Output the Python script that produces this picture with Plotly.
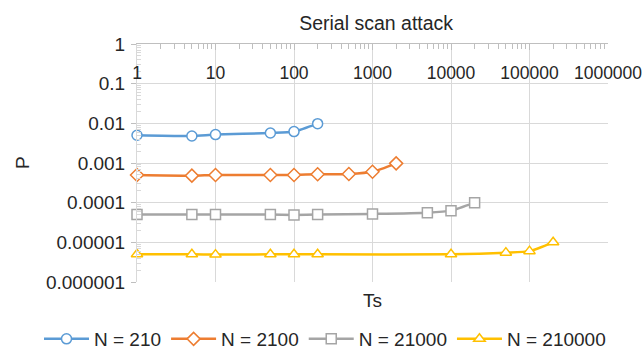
import plotly.graph_objects as go

# Time steps Ts and detection probability P for each network size N
ts_210 = [1, 5, 10, 50, 100, 200]
p_210 = [0.005, 0.0048, 0.0052, 0.0057, 0.0062, 0.0098]

ts_2100 = [1, 5, 10, 50, 100, 200, 500, 1000, 2000]
p_2100 = [0.0005, 0.00048, 0.0005, 0.0005, 0.0005, 0.00052, 0.00053, 0.0006, 0.00098]

ts_21000 = [1, 5, 10, 50, 100, 200, 1000, 5000, 10000, 20000]
p_21000 = [0.00005, 0.00005, 0.00005, 0.00005, 0.000049, 0.00005, 0.000052,
           0.000056, 0.000063, 0.0001]

ts_210000 = [1, 5, 10, 50, 100, 200, 10000, 50000, 100000, 200000]
p_210000 = [5e-6, 5e-6, 4.9e-6, 5e-6, 5e-6, 5e-6, 5e-6, 5.5e-6, 6e-6, 1e-5]

series_names = ["N = 210", "N = 2100", "N = 21000", "N = 210000"]
series_colors = ["#5B9BD5", "#ED7D31", "#A5A5A5", "#FFC000"]
series_symbols = ["circle", "diamond", "square", "triangle-up"]

x_tick_vals = [1, 10, 100, 1000, 10000, 100000, 1000000]
x_tick_text = ["1", "10", "100", "1000", "10000", "100000", "1000000"]
y_tick_vals = [1, 0.1, 0.01, 0.001, 0.0001, 0.00001, 0.000001]
y_tick_text = ["1", "0.1", "0.01", "0.001", "0.0001", "0.00001", "0.000001"]

FONT = "Liberation Sans, Arial, sans-serif"
TEXT = "#262626"
PLOT_W, PLOT_H = 471, 238

fig = go.Figure()
series = [(ts_210, p_210), (ts_2100, p_2100), (ts_21000, p_21000), (ts_210000, p_210000)]
for (xs, ys), name, color, symbol in zip(series, series_names, series_colors, series_symbols):
    fig.add_trace(go.Scatter(
        x=xs, y=ys, name=name, mode="lines+markers", cliponaxis=False,
        line=dict(color=color, width=2.5, shape="spline", smoothing=0.6),
        marker=dict(symbol=symbol, size=10, color="white",
                    line=dict(color=color, width=1.5)),
    ))

# empty trace that carries the label-only x axis
fig.add_trace(go.Scatter(x=[], y=[], xaxis="x2", mode="none",
                         showlegend=False, hoverinfo="skip"))

# minor tick positions 2..9 within each decade
x_minor = [m * 10 ** d for d in range(0, 6) for m in range(2, 10)]
y_minor = [m * 10.0 ** d for d in range(-6, 0) for m in range(2, 10)]

# main x axis: line, ticks and vertical grid at the top (P = 1)
fig.update_layout(xaxis=dict(
    type="log", range=[0, 6], side="top",
    tickmode="array", tickvals=x_tick_vals, ticktext=x_tick_text,
    showticklabels=False,
    ticks="inside", ticklen=6, tickcolor="#bfbfbf", tickwidth=1,
    showline=True, linecolor="#bfbfbf", linewidth=1,
    showgrid=True, gridcolor="#d9d9d9", gridwidth=1,
    minor=dict(tickmode="array", tickvals=x_minor, ticks="inside",
               ticklen=5, tickcolor="#bfbfbf", showgrid=False),
    zeroline=False,
))
fig.update_layout(yaxis=dict(
    type="log", range=[-6, 0],
    tickmode="array", tickvals=y_tick_vals, ticktext=y_tick_text,
    ticks="outside", ticklen=5, tickcolor="#bfbfbf", tickwidth=1,
    ticklabelstandoff=2,
    tickfont=dict(family=FONT, size=19, color=TEXT),
    showline=True, linecolor="#d9d9d9", linewidth=1,
    showgrid=True, gridcolor="#d9d9d9", gridwidth=1,
    minor=dict(tickmode="array", tickvals=y_minor, ticks="inside",
               ticklen=4, tickcolor="#d9d9d9", showgrid=False),
    zeroline=False,
))

fig.update_layout(
    width=643, height=350,
    margin=dict(l=137, r=35, t=44, b=68, autoexpand=False),
    paper_bgcolor="white", plot_bgcolor="white",
    # x tick labels sit just under the top axis line
    xaxis2=dict(
        type="log", range=[0, 6], overlaying="x", anchor="free",
        position=1 - 16 / PLOT_H, side="bottom",
        tickmode="array", tickvals=x_tick_vals, ticktext=x_tick_text,
        ticks="", showgrid=False, showline=False, zeroline=False,
        ticklabeloverflow="allow",
        tickfont=dict(family=FONT, size=17.5, color=TEXT),
    ),
    title=dict(text="Serial scan attack", x=0.585, xanchor="center",
               y=1 - 23 / 350, yanchor="middle",
               font=dict(family=FONT, size=19.5, color=TEXT)),
    showlegend=True,
    legend=dict(orientation="h", xref="paper", yref="paper",
                x=-98 / PLOT_W, xanchor="left", y=-57 / PLOT_H, yanchor="middle",
                font=dict(family=FONT, size=19, color=TEXT),
                itemwidth=45, tracegroupgap=0),
    annotations=[
        dict(text="Ts", xref="paper", yref="paper", x=(372 - 137) / PLOT_W,
             y=-18 / PLOT_H, xanchor="center", yanchor="middle", showarrow=False,
             font=dict(family=FONT, size=19, color=TEXT)),
        dict(text="P", xref="paper", yref="paper", x=-115 / PLOT_W, y=0.5,
             xanchor="center", yanchor="middle", showarrow=False, textangle=-90,
             font=dict(family=FONT, size=19, color=TEXT)),
    ],
)

fig.write_html("out.html")
